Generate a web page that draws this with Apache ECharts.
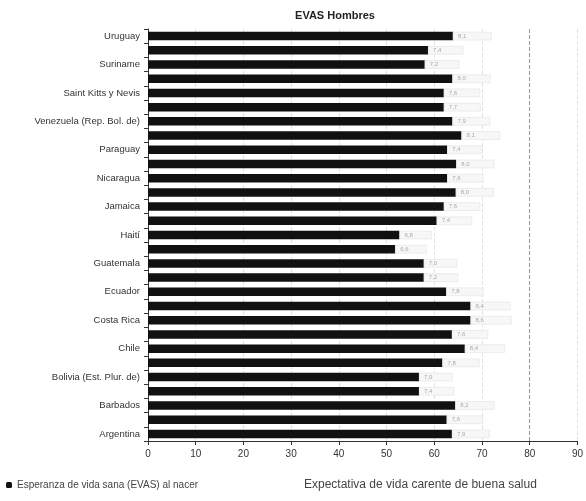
<!DOCTYPE html>
<html>
<head>
<meta charset="utf-8">
<script src="https://cdn.jsdelivr.net/npm/echarts@6/dist/echarts.min.js"></script>
<style>
  html, body { margin: 0; padding: 0; background: #fff; }
  #chart { width: 586px; height: 501px; }
</style>
</head>
<body>
<div id="chart"></div>
<script>
// bottom to top, as the category axis draws them
const countries = [
  'Argentina', 'Bahamas', 'Barbados', 'Belice', 'Bolivia (Est. Plur. de)', 'Brasil',
  'Chile', 'Colombia', 'Costa Rica', 'Cuba', 'Ecuador', 'El Salvador',
  'Guatemala', 'Guyana', 'Haití', 'Honduras', 'Jamaica', 'México',
  'Nicaragua', 'Panamá', 'Paraguay', 'Perú', 'Venezuela (Rep. Bol. de)', 'República Dominicana',
  'Saint Kitts y Nevis', 'Santa Lucía', 'Suriname', 'Trinidad y Tabago', 'Uruguay'
];
const evas = [
  63.7, 62.6, 64.4, 56.8, 56.8, 61.7,
  66.4, 63.7, 67.6, 67.6, 62.5, 57.8,
  57.8, 51.8, 52.7, 60.5, 62.0, 64.5,
  62.7, 64.6, 62.7, 65.7, 63.8, 62.0,
  62.0, 63.8, 58.0, 58.7, 63.9
];
const carente = [
  7.9, 7.6, 8.2, 7.4, 7.0, 7.8,
  8.4, 7.6, 8.6, 8.4, 7.8, 7.2,
  7.0, 6.6, 6.8, 7.4, 7.6, 8.0,
  7.6, 8.0, 7.4, 8.1, 7.9, 7.7,
  7.6, 8.0, 7.2, 7.4, 8.1
];
const xTicks = { min: 0, max: 90, interval: 10 };
const dashedRef = 80;

const font = '"Liberation Sans", Arial, sans-serif';
const chart = echarts.init(document.getElementById('chart'));

chart.setOption({
  backgroundColor: '#fff',
  animation: false,
  textStyle: { fontFamily: font },
  title: {
    text: 'EVAS Hombres',
    left: 330, top: 5, textAlign: 'center',
    textStyle: { fontSize: 11, fontWeight: 'bold', color: '#222', fontFamily: font }
  },
  legend: [
    {
      data: ['Esperanza de vida sana (EVAS) al nacer'],
      left: 1, top: 475, itemWidth: 6, itemHeight: 6, itemGap: 4,
      textStyle: { fontSize: 10, color: '#444', fontFamily: font }
    },
    {
      data: [{ name: 'Expectativa de vida carente de buena salud', itemStyle: { color: '#fff', borderWidth: 0 } }],
      left: 288, top: 474, itemWidth: 6, itemHeight: 6, itemGap: 4,
      textStyle: { fontSize: 12, color: '#444', fontFamily: font }
    }
  ],
  grid: { left: 148, right: 3, top: 29, bottom: 60, containLabel: false },
  xAxis: {
    type: 'value', ...xTicks,
    axisLine: { show: true, lineStyle: { color: '#333' } },
    axisTick: { show: true, length: 4, lineStyle: { color: '#333' } },
    axisLabel: { color: '#333', fontSize: 10, margin: 8, fontFamily: font },
    splitLine: { show: true, lineStyle: { color: '#e2e2e2', type: 'dashed' } }
  },
  yAxis: {
    type: 'category', data: countries,
    axisLine: { show: true, lineStyle: { color: '#333' } },
    axisTick: { show: true, length: 4, interval: 0, lineStyle: { color: '#333' } },
    axisLabel: { interval: 1, color: '#333', fontSize: 9.5, margin: 8, fontFamily: font }
  },
  series: [
    {
      name: 'Esperanza de vida sana (EVAS) al nacer',
      type: 'bar', stack: 'total', data: evas, barWidth: 8.5,
      itemStyle: { color: '#111' }
    },
    {
      name: 'Expectativa de vida carente de buena salud',
      type: 'bar', stack: 'total', data: carente, barWidth: 8.5,
      itemStyle: { color: '#f7f7f7', borderColor: '#e2e2e2', borderWidth: 0.6 },
      label: {
        show: true, position: 'insideLeft', fontSize: 6, color: '#aaa',
        formatter: p => p.value.toFixed(1).replace('.', ',')
      },
      markLine: {
        silent: true, symbol: 'none', label: { show: false },
        lineStyle: { color: '#999', type: 'dashed', width: 1 },
        data: [{ xAxis: dashedRef }]
      }
    }
  ]
});
</script>
</body>
</html>
